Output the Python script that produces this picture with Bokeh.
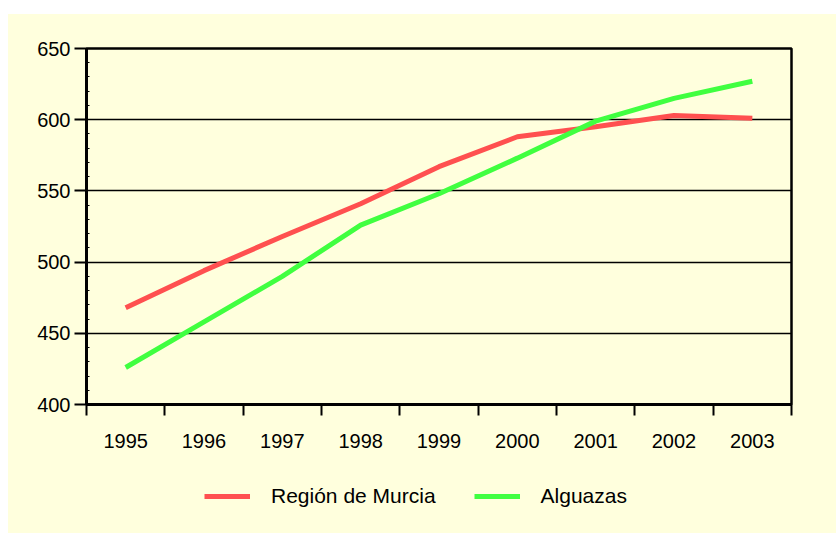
from bokeh.plotting import figure
from bokeh.models import Range1d, FixedTicker, Legend, LegendItem
from bokeh.layouts import column
from bokeh.embed import file_html
from bokeh.resources import INLINE

years = ["1995", "1996", "1997", "1998", "1999", "2000", "2001", "2002", "2003"]
murcia = [468, 494, 518, 541, 567, 588, 595, 603, 601]
alguazas = [426, 458, 490, 526, 548, 573, 599, 615, 627]
y_ticks = [400, 450, 500, 550, 600, 650]
y_minor = [v for v in range(400, 651, 10) if v % 50 != 0]

BG = "#FFFFDD"
FONT = "Liberation Sans"
RED = "#FF5050"
GREEN = "#40FF40"

xs = [i + 0.5 for i in range(len(years))]

p = figure(width=828, height=446, output_backend="svg", toolbar_location=None,
           x_range=Range1d(0, len(years)), y_range=Range1d(400, 650),
           min_border_left=78, min_border_right=45, min_border_top=34, min_border_bottom=56)
p.background_fill_color = BG
p.border_fill_color = BG
p.outline_line_color = "black"
p.outline_line_width = 2.5

p.line(xs, murcia, line_color=RED, line_width=5)
p.line(xs, alguazas, line_color=GREEN, line_width=5)

# x axis
xa = p.xaxis[0]
xa.ticker = FixedTicker(ticks=xs, minor_ticks=list(range(len(years) + 1)))
xa.major_label_overrides = {x: y for x, y in zip(xs, years)}
xa.major_tick_out = 0
xa.major_tick_in = 0
xa.minor_tick_out = 11
xa.minor_tick_in = 0
xa.minor_tick_line_width = 2
xa.minor_tick_line_color = "black"
xa.axis_line_width = 3
xa.axis_line_color = "black"
xa.major_label_text_font = FONT
xa.major_label_text_font_size = "20px"
xa.major_label_text_color = "black"
xa.major_label_standoff = 18

ya = p.yaxis[0]
ya.ticker = FixedTicker(ticks=y_ticks, minor_ticks=y_minor)
ya.major_tick_out = 12
ya.major_tick_in = 0
ya.major_tick_line_width = 2
ya.minor_tick_in = 3
ya.minor_tick_out = 0
ya.minor_tick_line_width = 1
ya.minor_tick_line_color = "black"
ya.axis_line_width = 3
ya.axis_line_color = "black"
ya.major_label_text_font = FONT
ya.major_label_text_font_size = "20px"
ya.major_label_text_color = "black"
ya.major_label_standoff = 4

p.xgrid.grid_line_color = None
p.ygrid.ticker = FixedTicker(ticks=y_ticks)
p.ygrid.grid_line_color = "black"
p.ygrid.grid_line_width = 1.5

# legend strip below the chart
p2 = figure(width=828, height=73, output_backend="svg", toolbar_location=None,
            x_range=Range1d(0, 1), y_range=Range1d(0, 1),
            x_axis_type=None, y_axis_type=None, min_border=0)
p2.background_fill_color = BG
p2.border_fill_color = BG
p2.outline_line_color = None
p2.grid.grid_line_color = None
l1 = p2.line(xs, murcia, line_color=RED, line_width=5, visible=False)
l2 = p2.line(xs, alguazas, line_color=GREEN, line_width=5, visible=False)

legend = Legend(items=[LegendItem(label="Región de Murcia", renderers=[l1]),
                       LegendItem(label="Alguazas", renderers=[l2])],
                orientation="horizontal", location=(118, 25))
legend.padding = 0
legend.margin = 0
legend.spacing = 38
legend.glyph_width = 46
legend.glyph_height = 20
legend.label_standoff = 21
legend.label_text_font = FONT
legend.label_text_font_size = "21px"
legend.label_text_color = "black"
legend.border_line_alpha = 0
legend.background_fill_alpha = 0
p2.add_layout(legend, "center")

layout = column(p, p2, spacing=0)
layout.margin = (14, 0, 0, 8)
layout.styles = {"background-color": BG}

open("out.html", "w").write(file_html(layout, INLINE))
